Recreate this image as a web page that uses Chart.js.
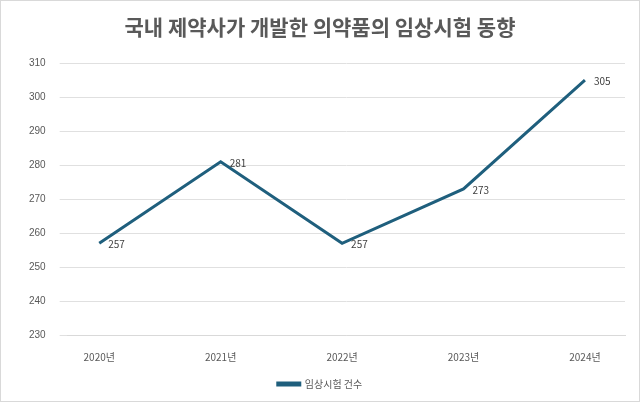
<!DOCTYPE html>
<html>
<head>
<meta charset="utf-8">
<script src="https://cdn.jsdelivr.net/npm/chart.js@4"></script>
<style>
  body { margin: 0; background: #fff; }
  #wrap { width: 638px; height: 400px; border: 1px solid #d9d9d9; }
</style>
</head>
<body>
<div id="wrap"><canvas id="trialChart"></canvas></div>
<script>
// data
const years = ["2020년", "2021년", "2022년", "2023년", "2024년"];
const trialCounts = [257, 281, 257, 273, 305];

const points = trialCounts.map((v, i) => ({ x: i, y: v }));

// draw value labels next to each point
const valueLabels = {
    id: 'valueLabels',
    afterDatasetsDraw(chart) {
        const ctx = chart.ctx;
        const meta = chart.getDatasetMeta(0);
        ctx.save();
        ctx.font = '10px "Noto Sans CJK KR", sans-serif';
        ctx.fillStyle = '#404040';
        ctx.textBaseline = 'middle';
        meta.data.forEach(function (pt, i) {
            ctx.fillText(trialCounts[i], pt.x + 9, pt.y + 1);
        });
        ctx.restore();
    }
};

new Chart(document.getElementById('trialChart'), {
    type: 'line',
    data: {
        datasets: [{
            label: '임상시험 건수',
            data: points,
            borderColor: '#1F5F7D',
            backgroundColor: '#1F5F7D',
            borderWidth: 3,
            pointRadius: 0,
            tension: 0,
        }],
    },
    options: {
        responsive: true,
        maintainAspectRatio: false,
        animation: false,
        layout: { padding: { left: 14, right: 14, top: 4, bottom: 2 } },
        plugins: {
            title: {
                display: true,
                text: '국내 제약사가 개발한 의약품의 임상시험 동향',
                color: '#595959',
                font: { family: '"Noto Sans CJK KR", sans-serif', size: 21, weight: 'bold' },
                padding: { top: 9, bottom: 24 },
            },
            legend: {
                position: 'bottom',
                labels: {
                    boxWidth: 22,
                    boxHeight: 2,
                    color: '#595959',
                    font: { family: '"Noto Sans CJK KR", sans-serif', size: 10 },
                    padding: 8,
                },
            },
            tooltip: { enabled: false },
        },
        scales: {
            x: {
                type: 'linear',
                min: -0.26,
                max: 4.33,
                afterBuildTicks: function (axis) {
                    axis.ticks = years.map((y, i) => ({ value: i }));
                },
                grid: { display: false },
                border: { color: '#d9d9d9' },
                ticks: {
                    color: '#595959',
                    font: { family: '"Noto Sans CJK KR", sans-serif', size: 10 },
                    padding: 8,
                    callback: (v) => years[v],
                },
            },
            y: {
                min: 230,
                max: 310,
                ticks: { stepSize: 10, color: '#595959', font: { size: 10 }, padding: 14 },
                grid: { color: '#e0e0e0' },
                border: { display: false },
            },
        },
    },
    plugins: [valueLabels],
});
</script>
</body>
</html>
